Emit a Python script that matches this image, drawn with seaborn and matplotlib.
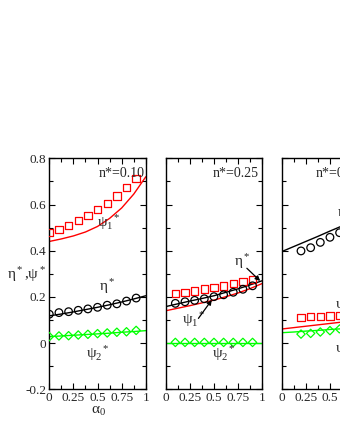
import numpy as np
import pandas as pd
import matplotlib
matplotlib.use("Agg")
import matplotlib.pyplot as plt
import seaborn as sns
from matplotlib.ticker import MultipleLocator, FixedLocator, FixedFormatter

# ---------------- data ----------------
# panel labels
panel_labels = ["n*=0.10", "n*=0.25", "n*=0.40"]

# simulation points (alpha_0)
alpha_p1 = [0.0, 0.1, 0.2, 0.3, 0.4, 0.5, 0.6, 0.7, 0.8, 0.9]
psi1_p1 = [0.480, 0.493, 0.510, 0.530, 0.553, 0.577, 0.605, 0.637, 0.673, 0.713]
eta_p1 = [0.125, 0.132, 0.136, 0.142, 0.148, 0.155, 0.164, 0.170, 0.182, 0.195]
psi2_p1 = [0.028, 0.031, 0.032, 0.035, 0.038, 0.041, 0.044, 0.047, 0.049, 0.055]

alpha_p2 = [0.1, 0.2, 0.3, 0.4, 0.5, 0.6, 0.7, 0.8, 0.9]
psi1_p2 = [0.216, 0.220, 0.226, 0.234, 0.240, 0.247, 0.257, 0.266, 0.274]
eta_p2 = [0.172, 0.179, 0.185, 0.192, 0.201, 0.209, 0.220, 0.233, 0.248]
psi2_p2 = [0.003, 0.003, 0.003, 0.003, 0.003, 0.003, 0.003, 0.003, 0.003]

alpha_p3 = [0.2, 0.3, 0.4, 0.5, 0.6]
psi1_p3 = [0.112, 0.114, 0.115, 0.117, 0.119]
eta_p3 = [0.399, 0.413, 0.436, 0.458, 0.478]
psi2_p3 = [0.039, 0.042, 0.048, 0.054, 0.061]

# theory curves
alpha_th = [0.0, 0.125, 0.25, 0.375, 0.5, 0.625, 0.75, 0.875, 1.0]
psi1_th1 = [0.440, 0.451, 0.464, 0.481, 0.505, 0.540, 0.585, 0.645, 0.720]
eta_th1 = [0.118, 0.126, 0.135, 0.145, 0.155, 0.166, 0.178, 0.191, 0.205]
psi2_th1 = [0.028, 0.031, 0.034, 0.037, 0.040, 0.043, 0.047, 0.050, 0.054]

psi1_th2 = [0.140, 0.151, 0.162, 0.174, 0.186, 0.201, 0.217, 0.236, 0.258]
eta_th2 = [0.158, 0.170, 0.182, 0.193, 0.205, 0.220, 0.235, 0.252, 0.270]
psi2_th2 = [0.001, 0.001, 0.001, 0.001, 0.001, 0.001, 0.001, 0.001, 0.001]

psi1_th3 = [0.061, 0.067, 0.073, 0.079, 0.085, 0.091, 0.098, 0.104, 0.110]
eta_th3 = [0.396, 0.418, 0.440, 0.462, 0.485, 0.507, 0.530, 0.555, 0.580]
psi2_th3 = [0.045, 0.048, 0.052, 0.055, 0.059, 0.062, 0.066, 0.069, 0.073]

x_ticks = [0, 0.25, 0.5, 0.75, 1]
x_ticklabels = ["0", "0.25", "0.5", "0.75", "1"]
y_ticks = [-0.2, 0, 0.2, 0.4, 0.6, 0.8]
y_ticklabels = ["-0.2", "0", "0.2", "0.4", "0.6", "0.8"]

# ---------------- style ----------------
sns.set_style("ticks")
plt.rcParams["font.family"] = ["Liberation Serif", "DejaVu Serif"]
plt.rcParams["mathtext.fontset"] = "custom"
plt.rcParams["mathtext.rm"] = "Liberation Serif"
plt.rcParams["mathtext.it"] = "Liberation Serif"
plt.rcParams["mathtext.bf"] = "Liberation Serif:bold"
plt.rcParams["axes.linewidth"] = 1.0

RED = "#ff0000"
GREEN = "#00ff00"
BLACK = "#000000"

fig = plt.figure(figsize=(3.4, 4.4), dpi=100)
fig.patch.set_facecolor("white")

W, H = 340.0, 440.0
ax_w = 96.5 / W
ax_h = 231.0 / H
ax_b = (H - 389.3) / H
lefts = [49.3 / W, 165.7 / W, 281.7 / W]
axes = [fig.add_axes([l, ax_b, ax_w, ax_h]) for l in lefts]

panels = [
    (alpha_p1, psi1_p1, eta_p1, psi2_p1, psi1_th1, eta_th1, psi2_th1),
    (alpha_p2, psi1_p2, eta_p2, psi2_p2, psi1_th2, eta_th2, psi2_th2),
    (alpha_p3, psi1_p3, eta_p3, psi2_p3, psi1_th3, eta_th3, psi2_th3),
]

for i, (ax, pd_) in enumerate(zip(axes, panels)):
    a, p1, e, p2, tp1, te, tp2 = pd_
    ax.set_facecolor("white")
    sns.lineplot(x=alpha_th, y=tp1, ax=ax, color=RED, lw=1.0)
    sns.lineplot(x=alpha_th, y=te, ax=ax, color=BLACK, lw=1.0)
    sns.lineplot(x=alpha_th, y=tp2, ax=ax, color=GREEN, lw=1.0)
    sns.scatterplot(x=a, y=p1, ax=ax, marker="s", s=28, facecolor="none",
                    edgecolor=RED, linewidth=0.9, zorder=3)
    sns.scatterplot(x=a, y=e, ax=ax, marker="o", s=30, facecolor="none",
                    edgecolor=BLACK, linewidth=0.9, zorder=3)
    sns.scatterplot(x=a, y=p2, ax=ax, marker="D", s=18, facecolor="none",
                    edgecolor=GREEN, linewidth=0.9, zorder=3)
    ax.set_xlim(0, 1)
    ax.set_ylim(-0.2, 0.8)
    ax.xaxis.set_major_locator(FixedLocator(x_ticks))
    ax.xaxis.set_major_formatter(FixedFormatter(x_ticklabels))
    ax.xaxis.set_minor_locator(MultipleLocator(0.125))
    ax.yaxis.set_major_locator(FixedLocator(y_ticks))
    ax.yaxis.set_minor_locator(MultipleLocator(0.1))
    if i == 0:
        ax.yaxis.set_major_formatter(FixedFormatter(y_ticklabels))
    else:
        ax.set_yticklabels([])
    ax.tick_params(which="both", direction="in", top=True, right=True,
                   labelsize=9.5, pad=2, width=0.8, color="black")
    ax.tick_params(which="major", length=4)
    ax.tick_params(which="minor", length=3)
    for sp in ax.spines.values():
        sp.set_color("black")
        sp.set_linewidth(1.0)
    ax.set_xlabel("")
    ax.set_ylabel("")

fs = 10
gs = 11
PSI1 = "ψ$_1^{\\ \\ *}$"
PSI2 = "ψ$_2^{\\ \\ *}$"
ETA = "η$^*$"
# panel 1 annotations
ax = axes[0]
ax.text(0.99, 0.72, panel_labels[0], ha="right", va="baseline", fontsize=fs)
ax.text(0.49, 0.526, PSI1, ha="left", va="center", fontsize=gs)
ax.text(0.60, 0.245, ETA, ha="center", va="center", fontsize=gs)
ax.text(0.38, -0.045, PSI2, ha="left", va="center", fontsize=gs)

# panel 2 annotations
ax = axes[1]
ax.text(0.96, 0.72, panel_labels[1], ha="right", va="baseline", fontsize=fs)
ax.text(0.79, 0.353, ETA, ha="center", va="center", fontsize=gs)
ax.annotate("", xy=(0.979, 0.269), xytext=(0.841, 0.324),
            arrowprops=dict(arrowstyle="-|>", color="black", lw=0.9,
                            mutation_scale=7, shrinkA=0, shrinkB=0))
ax.text(0.17, 0.102, PSI1, ha="left", va="center", fontsize=gs)
ax.annotate("", xy=(0.478, 0.187), xytext=(0.339, 0.107),
            arrowprops=dict(arrowstyle="-|>", color="black", lw=0.9,
                            mutation_scale=7, shrinkA=0, shrinkB=0))
ax.text(0.48, -0.045, PSI2, ha="left", va="center", fontsize=gs)

# panel 3 annotations (cut off by the figure edge, as in the reference)
ax = axes[2]
ax.text(0.355, 0.72, panel_labels[2], ha="left", va="baseline", fontsize=fs)
ax.text(0.571, 0.565, ETA, ha="left", va="center", fontsize=gs)
ax.text(0.557, 0.17, PSI1, ha="left", va="center", fontsize=gs)
ax.text(0.557, -0.02, PSI2, ha="left", va="center", fontsize=gs)

# axis labels
fig.text(27 / W, 1 - 275 / H, "η$^*$,ψ$^*$", ha="center", va="center",
         fontsize=gs)
fig.text(98 / W, 1 - 411 / H, "α$_0$", ha="center", va="center",
         fontsize=gs)

fig.savefig("out.png", dpi=100, facecolor="white")
